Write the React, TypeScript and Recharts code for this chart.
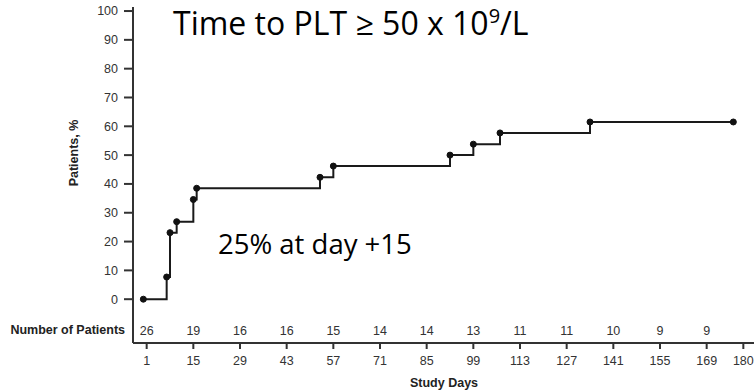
import React from "react";
import { ComposedChart, Line, Scatter, XAxis, YAxis } from "recharts";

// Kaplan-Meier style cumulative incidence
const eventDays = [0, 7, 8, 10, 15, 16, 53, 57, 92, 99, 107, 134, 177];
const patientPct = [0, 7.7, 23.1, 26.9, 34.6, 38.5, 42.3, 46.2, 50, 53.8, 57.7, 61.5, 61.5];

// x axis ticks (study days) and numbers at risk under each tick
const tickDays = [1, 15, 29, 43, 57, 71, 85, 99, 113, 127, 141, 155, 169, 180];
const riskDays = [1, 15, 29, 43, 57, 71, 85, 99, 113, 127, 141, 155, 169];
const atRisk = [26, 19, 16, 16, 15, 14, 14, 13, 11, 11, 10, 9, 9];

const yTicks = [0, 10, 20, 30, 40, 50, 60, 70, 80, 90, 100];
const riskRowY = -10.8;

const kmData = eventDays.map((d, i) => ({ day: d, pct: patientPct[i] }));
const riskData = riskDays.map((d, i) => ({ day: d, y: riskRowY, n: atRisk[i] }));

const axisFont = "'Liberation Sans', Arial, sans-serif";
const calloutFont = "'Open Sans', 'Noto Sans', sans-serif";
const ink = "#333";
const fs = 12.5;

const RiskLabel = (props: any) => {
  const { cx, cy, payload } = props;
  return (
    <text x={cx} y={cy} dy="0.355em" textAnchor="middle" fontSize={fs} fontFamily={axisFont} fill={ink}>
      {payload.n}
    </text>
  );
};

export default function App() {
  return (
    <div style={{ position: "absolute", left: 0, top: 0, width: 754, height: 392, background: "#fff" }}>
      <ComposedChart width={754} height={392} margin={{ top: 7, right: 0, bottom: 0, left: 0 }}>
        <XAxis
          dataKey="day"
          type="number"
          domain={[-3.1, 183.2]}
          ticks={tickDays}
          height={49}
          tick={{ fill: ink, fontSize: fs, fontFamily: axisFont }}
          axisLine={{ stroke: "#333", strokeWidth: 2 }}
          tickLine={{ stroke: "#333", strokeWidth: 2 }}
          tickSize={6}
          tickMargin={7}
          allowDataOverflow
        />
        <YAxis
          type="number"
          domain={[-15.2, 101.4]}
          ticks={yTicks}
          width={133}
          tick={{ fill: ink, fontSize: fs, fontFamily: axisFont }}
          axisLine={{ stroke: "#333", strokeWidth: 2 }}
          tickLine={{ stroke: "#333", strokeWidth: 2 }}
          tickSize={9}
          tickMargin={6}
          allowDataOverflow
        />
        <Line
          data={kmData}
          dataKey="pct"
          type="stepAfter"
          stroke="#1a1a1a"
          strokeWidth={2}
          dot={{ r: 3, fill: "#111", stroke: "#111", strokeWidth: 1 }}
          isAnimationActive={false}
        />
        <Scatter data={riskData} dataKey="y" shape={RiskLabel} isAnimationActive={false} />
      </ComposedChart>
      <svg
        width={754}
        height={392}
        style={{ position: "absolute", left: 0, top: 0, pointerEvents: "none" }}
      >
        <text x={173} y={35} fontSize={32} fontFamily={calloutFont} fill="#000">
          Time to PLT ≥ 50 x 10
          <tspan fontSize={20} dy={-12}>9</tspan>
          <tspan dy={12}>/L</tspan>
        </text>
        <text x={218} y={254} fontSize={27.5} fontFamily={calloutFont} fill="#000">
          25% at day +15
        </text>
        <text x={125} y={330} dy="0.355em" textAnchor="end" fontSize={fs} fontWeight="bold" fontFamily={axisFont} fill="#222">
          Number of Patients
        </text>
        <text
          x={74}
          y={153}
          dy="0.355em"
          textAnchor="middle"
          fontSize={fs}
          fontWeight="bold"
          fontFamily={axisFont}
          fill="#222"
          transform="rotate(-90 74 153)"
        >
          Patients, %
        </text>
        <text x={444} y={387} textAnchor="middle" fontSize={fs} fontWeight="bold" fontFamily={axisFont} fill="#222">
          Study Days
        </text>
      </svg>
    </div>
  );
}
